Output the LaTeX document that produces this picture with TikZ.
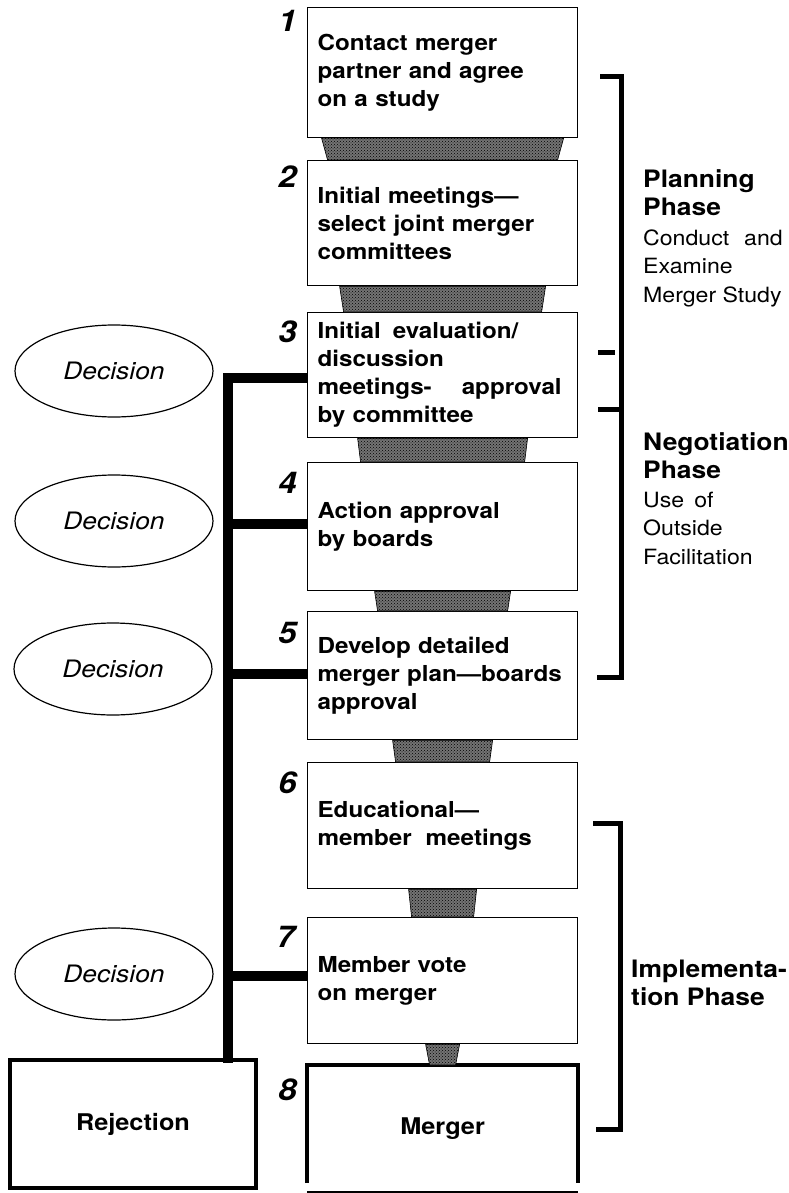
\documentclass[tikz,border=0pt]{standalone}
\usepackage{fontspec}
\setmainfont{TeX Gyre Heros}[FakeStretch=1.1]
\usetikzlibrary{positioning,shapes.geometric,patterns,calc}

\begin{document}
\begin{tikzpicture}[x=1pt, y=-1pt,
    stepbox/.style={draw, line width=1.2pt, anchor=north west, minimum width=270pt,
      text width=250pt, inner xsep=10pt, align=left, font=\fontsize{22}{28}\selectfont\bfseries},
    stepnum/.style={anchor=base east, inner sep=0pt, font=\fontsize{30}{30}\selectfont\bfseries\itshape},
    decision/.style={draw, ellipse, line width=1.2pt, minimum width=198pt, minimum height=92pt,
      font=\fontsize{24}{28}\selectfont\itshape},
    endbox/.style={draw, line width=4pt, minimum width=246pt, minimum height=128pt,
      font=\fontsize{23}{28}\selectfont\bfseries},
    neck/.style={preaction={fill=black!55}, pattern=crosshatch dots, pattern color=black, draw, line width=0.6pt},
    reject/.style={line width=10pt},
    bracket/.style={line width=5pt},
    phasetitle/.style={anchor=north west, inner sep=0pt, align=left, font=\fontsize{24}{28}\selectfont\bfseries},
    phasesub/.style={anchor=north west, inner sep=0pt, align=left, font=\fontsize{21}{28.5}\selectfont}]
  \useasboundingbox (0,0) rectangle (789,1193);

  % the eight steps
  \node[stepbox, minimum height=130pt] (b1) at (307,7) {Contact merger\\partner and agree\\on a study};
  \node[stepbox, minimum height=125pt] (b2) at (307,160) {Initial meetings---\\select joint merger\\committees};
  \node[stepbox, minimum height=125pt] (b3) at (307,312) {Initial\hspace{12pt}evaluation/\\discussion\\meetings-\hspace{30pt}approval\\by committee};
  \node[stepbox, minimum height=128pt] (b4) at (307,462) {Action approval\\by boards};
  \node[stepbox, minimum height=128pt] (b5) at (307,611) {Develop detailed\\merger plan---boards\\approval};
  \node[stepbox, minimum height=126pt] (b6) at (307,762) {Educational---\\member\hspace{14pt}meetings};
  \node[stepbox, minimum height=126pt] (b7) at (307,917) {Member vote\\on merger};
  \node[stepbox, draw=none, align=center, minimum height=126pt, font=\fontsize{23}{28}\selectfont\bfseries] (b8) at (307,1065) {Merger};
  \draw[line width=3.5pt] ($(b8.south west)+(0,-9)$) -- (b8.north west) -- (b8.north east) -- ($(b8.south east)+(0,-9)$);
  \draw[line width=2pt] (b8.south west) -- (b8.south east);

  \node[stepnum] (n1) at (297,32) {1};
  \node[stepnum] (n2) at (297,188) {2};
  \node[stepnum] (n3) at (297,342) {3};
  \node[stepnum] (n4) at (297,493) {4};
  \node[stepnum] (n5) at (297,643) {5};
  \node[stepnum] (n6) at (297,793) {6};
  \node[stepnum] (n7) at (295,947) {7};
  \node[stepnum] (n8) at (297,1100) {8};

  \foreach \a/\b/\t/\u in {b1/b2/121/115, b2/b3/103/99, b3/b4/85/82, b4/b5/68/65,
                           b5/b6/50/47, b6/b7/34/31, b7/b8/17/13}
    \draw[neck] ($(\a.south)+(-\t,0)$) -- ($(\a.south)+(\t,0)$) -- ($(\b.north)+(\u,0)$) -- ($(\b.north)+(-\u,0)$) -- cycle;

  % decisions and rejection
  \node[decision] (d1) at (114,371) {Decision};
  \node[decision] (d2) at (114,521) {Decision};
  \node[decision] (d3) at (113,669) {Decision};
  \node[decision] (d4) at (114,974) {Decision};
  \node[endbox] (rej) at (133,1124) {Rejection};

  \coordinate (bar) at (228,0);
  \draw[reject] ($(b3.west)+(0,2.5)$) -- ($(b3.west -| bar)+(0,2.5)$) -- ($(bar |- rej.north)+(0,5)$);
  \foreach \b/\s in {b4/-3, b5/-2, b7/-5}
    \draw[reject] ($(\b.west)+(0,\s)$) -- ($(\b.west -| bar)+(0,\s)$);

  % phases
  \draw[bracket] (600,77) -| (621,677) -- (597,677);
  \draw[bracket] (598,409) -- (621,409);
  \draw[bracket] (598,352) -- (615,352);
  \draw[bracket] (593,823) -| (620,1129) -- (596,1129);

  \node[phasetitle] (plan) at (643,169) {Planning\\Phase};
  \node[phasesub, below=14pt of plan.south west, anchor=north west] (plansub) {Conduct\hspace{15pt}and\\Examine\\Merger Study};
  \node[phasetitle] (nego) at (643,432) {Negotiation\\Phase};
  \node[phasesub, below=13pt of nego.south west, anchor=north west] (negosub) {Use\hspace{10pt}of\\Outside\\Facilitation};
  \node[phasetitle] (impl) at (631,960) {Implementa-\\tion Phase};
\end{tikzpicture}
\end{document}
